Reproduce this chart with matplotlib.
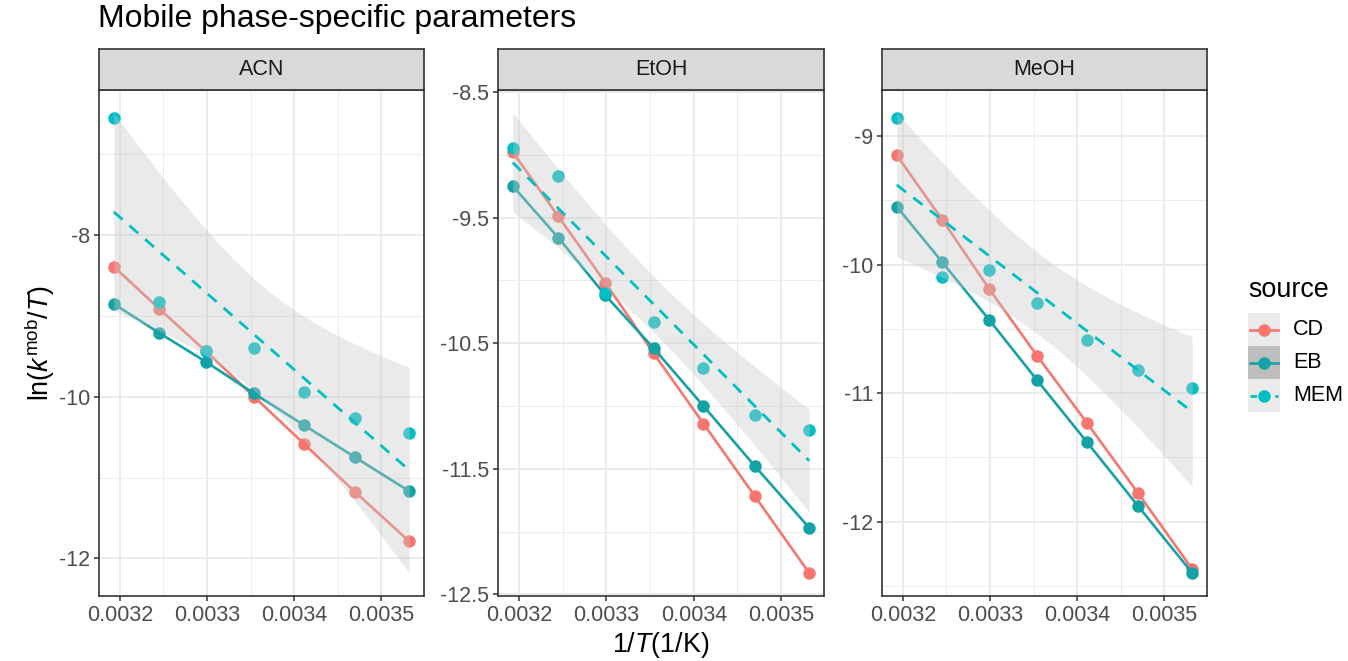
import numpy as np
import matplotlib
matplotlib.use('Agg')
import matplotlib.pyplot as plt
from matplotlib.patches import Rectangle
from matplotlib.lines import Line2D

plt.rcParams['font.family'] = ['Liberation Sans', 'DejaVu Sans']
plt.rcParams['mathtext.fontset'] = 'custom'
plt.rcParams['mathtext.rm'] = 'Liberation Sans'
plt.rcParams['mathtext.it'] = 'Liberation Sans:italic'

# ---------------- data ----------------
inv_T = [0.003193, 0.003245, 0.003299, 0.003354, 0.003411, 0.003470, 0.003532]
panels = ['ACN', 'EtOH', 'MeOH']

cd_acn = [-8.39, -8.91, -9.44, -10.00, -10.58, -11.18, -11.79]
eb_acn = [-8.85, -9.21, -9.57, -9.96, -10.35, -10.75, -11.17]
mem_acn = [-6.55, -8.83, -9.43, -9.40, -9.94, -10.26, -10.45]

cd_etoh = [-8.98, -9.49, -10.02, -10.58, -11.14, -11.72, -12.33]
eb_etoh = [-9.25, -9.66, -10.12, -10.54, -11.00, -11.48, -11.97]
mem_etoh = [-8.95, -9.17, -10.10, -10.33, -10.70, -11.07, -11.19]

cd_meoh = [-9.15, -9.65, -10.19, -10.71, -11.23, -11.78, -12.37]
eb_meoh = [-9.55, -9.98, -10.43, -10.90, -11.38, -11.88, -12.40]
mem_meoh = [-8.86, -10.10, -10.04, -10.30, -10.59, -10.82, -10.96]

sources = ['CD', 'EB', 'MEM']
x_major = [0.0032, 0.0033, 0.0034, 0.0035]
x_major_labels = ['0.0032', '0.0033', '0.0034', '0.0035']
x_minor = [0.00325, 0.00335, 0.00345]
y_major = {'ACN': [-12, -10, -8], 'EtOH': [-12.5, -11.5, -10.5, -9.5, -8.5],
           'MeOH': [-12, -11, -10, -9]}
y_major_labels = {'ACN': ['-12', '-10', '-8'],
                  'EtOH': ['-12.5', '-11.5', '-10.5', '-9.5', '-8.5'],
                  'MeOH': ['-12', '-11', '-10', '-9']}
y_minor = {'ACN': [-11, -9, -7], 'EtOH': [-12, -11, -10, -9],
           'MeOH': [-12.5, -11.5, -10.5, -9.5]}

data = {'ACN': (cd_acn, eb_acn, mem_acn),
        'EtOH': (cd_etoh, eb_etoh, mem_etoh),
        'MeOH': (cd_meoh, eb_meoh, mem_meoh)}

# ---------------- style ----------------
C_CD = '#F8766D'
C_EB = '#15A2A6'
C_MEM = '#00BFC4'
RIB_FILL = '#C8C8C8'
RIB_ALPHA = 0.38
DARK = '#333333'
MS = 9
LW = 1.9

W, H = 1348, 661
fig = plt.figure(figsize=(W / 100, H / 100), dpi=100)


def rect(x0, y0, x1, y1):
    return [x0 / W, 1 - y1 / H, (x1 - x0) / W, (y1 - y0) / H]


panel_x = [(99, 424), (498, 824), (882, 1207)]
p_top, p_bot, s_top = 90, 596, 49

T_CRIT = 2.5706  # t(0.975, df=5)


def lm_band(x, y, n=80):
    x = np.asarray(x); y = np.asarray(y)
    b, a = np.polyfit(x, y, 1)
    xs = np.linspace(x.min(), x.max(), n)
    fit = a + b * xs
    resid = y - (a + b * x)
    s = np.sqrt(np.sum(resid ** 2) / (len(x) - 2))
    sxx = np.sum((x - x.mean()) ** 2)
    se = s * np.sqrt(1 / len(x) + (xs - x.mean()) ** 2 / sxx)
    return xs, fit, fit - T_CRIT * se, fit + T_CRIT * se


for (x0, x1), name in zip(panel_x, panels):
    cd, eb, mem = data[name]
    ax = fig.add_axes(rect(x0, p_top, x1, p_bot))
    xs, fit, lo, hi = lm_band(inv_T, mem)

    ax.plot(inv_T, cd, color=C_CD, lw=LW, zorder=3, solid_capstyle='butt')
    ax.plot(inv_T, cd, 'o', color=C_CD, ms=MS, mew=0, zorder=3)
    ax.plot(inv_T, eb, color=C_EB, lw=LW, zorder=3, solid_capstyle='butt')
    ax.plot(inv_T, eb, 'o', color=C_EB, ms=MS, mew=0, zorder=3)
    ax.plot(inv_T, mem, 'o', color=C_MEM, ms=MS, mew=0, zorder=3)
    ax.fill_between(xs, lo, hi, color=RIB_FILL, alpha=RIB_ALPHA, lw=0, zorder=4)
    ax.plot(xs, fit, color=C_MEM, lw=2.0, dashes=(4.2, 3.3), zorder=5)

    allv = np.concatenate([cd, eb, mem, lo, hi])
    ymin, ymax = allv.min(), allv.max()
    d = 0.05 * (ymax - ymin)
    ax.set_ylim(ymin - d, ymax + d)
    xmn, xmx = min(inv_T), max(inv_T)
    dx = 0.05 * (xmx - xmn)
    ax.set_xlim(xmn - dx, xmx + dx)

    ax.set_xticks(x_major)
    ax.set_xticklabels(x_major_labels)
    ax.set_xticks(x_minor, minor=True)
    ax.set_yticks(y_major[name])
    ax.set_yticklabels(y_major_labels[name])
    ax.set_yticks(y_minor[name], minor=True)
    ax.grid(which='major', color='#EBEBEB', lw=1.4, zorder=0)
    ax.grid(which='minor', color='#EBEBEB', lw=0.7, zorder=0)
    ax.set_axisbelow(True)
    ax.tick_params(which='major', direction='out', length=3.5, width=1.1,
                   color=DARK, labelcolor='#4D4D4D', labelsize=15.5, pad=3)
    ax.tick_params(which='minor', length=0)
    for sp in ax.spines.values():
        sp.set_color(DARK)
        sp.set_linewidth(1.2)

    sax = fig.add_axes(rect(x0, s_top, x1, p_top))
    sax.set_facecolor('#D9D9D9')
    sax.set_xticks([]); sax.set_yticks([])
    for sp in sax.spines.values():
        sp.set_color(DARK)
        sp.set_linewidth(1.2)
    sax.text(0.5, 0.5, name, transform=sax.transAxes, ha='center', va='center',
             fontsize=15.5, color='#1A1A1A')

fig.text(98 / W, 1 - 19 / H, 'Mobile phase-specific parameters', fontsize=23,
         ha='left', va='center', color='black')
fig.text(40 / W, 1 - 343 / H, r'$\mathrm{ln}(k^{\mathrm{mob}}/T)$', rotation=90,
         fontsize=19.4, ha='center', va='center', color='black')
fig.text(661 / W, 1 - 645 / H, r'$\mathrm{1/}T\mathrm{(1/K)}$', fontsize=19.4,
         ha='center', va='center', color='black')

lax = fig.add_axes([0, 0, 1, 1], zorder=10)
lax.set_xlim(0, W); lax.set_ylim(H, 0); lax.axis('off'); lax.patch.set_alpha(0)
lax.text(1248, 290, 'source', fontsize=19.4, ha='left', va='center', color='black')
key_x0, key_x1 = 1248, 1280
key_tops = [313, 346, 379]
key_bg = ['#EBEBEB', '#BEBEBE', '#EBEBEB']
key_col = [C_CD, C_EB, C_MEM]
key_dash = [None, None, (2.5, 2.2)]
for src, t, bg, col, ds in zip(sources, key_tops, key_bg, key_col, key_dash):
    lax.add_patch(Rectangle((key_x0, t), key_x1 - key_x0, 33, facecolor=bg, lw=0))
    cy = t + 16.5
    ln = Line2D([key_x0 + 2, key_x1 - 2], [cy, cy], color=col, lw=1.9)
    if ds is not None:
        ln.set_dashes(ds)
    lax.add_line(ln)
    lax.plot([(key_x0 + key_x1) / 2], [cy], 'o', color=col, ms=MS, mew=0)
    lax.text(1293, cy, src, fontsize=15.5, ha='left', va='center', color='black')

fig.savefig('out.png', dpi=100)
